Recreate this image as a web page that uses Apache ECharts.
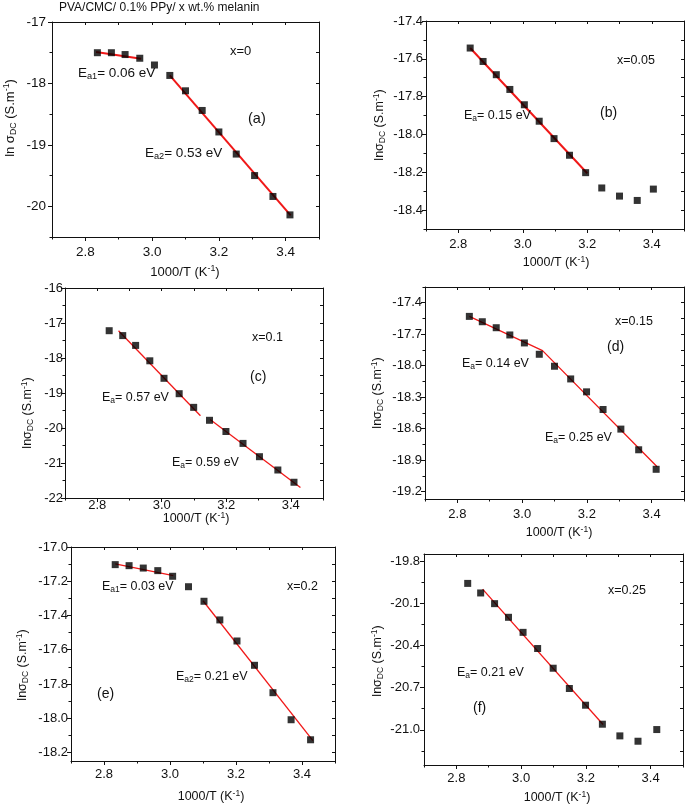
<!DOCTYPE html>
<html><head><meta charset="utf-8">
<script src="https://cdn.jsdelivr.net/npm/echarts@6/dist/echarts.min.js"></script>
<style>html,body{margin:0;padding:0;background:#fff}#c{width:685px;height:807px}</style>
</head><body><div id="c"></div>
<script>
// ---------- data ----------
const xTicks = [2.8, 3.0, 3.2, 3.4];
const xMinor = [2.7, 2.9, 3.1, 3.3, 3.5];

const xA = [2.836,2.878,2.919,2.963,3.007,3.053,3.100,3.150,3.200,3.252,3.307,3.362,3.413];
const yA = [-17.50,-17.50,-17.53,-17.59,-17.70,-17.87,-18.12,-18.44,-18.79,-19.15,-19.50,-19.84,-20.14];
const fitA1 = [[2.832,-17.49],[2.967,-17.60]];
const fitA2 = [[3.053,-17.868],[3.415,-20.147]];
const yTicksA = [-17,-18,-19,-20];
const yMinorA = [-17.5,-18.5,-19.5,-20.5];

const xB = [2.837,2.877,2.918,2.960,3.005,3.051,3.097,3.145,3.195,3.245,3.300,3.355,3.405];
const yB = [-17.543,-17.614,-17.684,-17.762,-17.843,-17.930,-18.022,-18.110,-18.202,-18.283,-18.326,-18.349,-18.289];
const fitB = [[2.837,-17.543],[3.200,-18.205]];
const yTicksB = [-17.4,-17.6,-17.8,-18.0,-18.2,-18.4];
const yMinorB = [-17.5,-17.7,-17.9,-18.1,-18.3,-18.5];

const xC = [2.837,2.879,2.919,2.963,3.007,3.054,3.099,3.148,3.199,3.252,3.303,3.360,3.410];
const yC = [-17.22,-17.36,-17.64,-18.08,-18.58,-19.02,-19.41,-19.78,-20.10,-20.44,-20.82,-21.20,-21.55];
const fitC1 = [[2.866,-17.22],[3.120,-19.65]];
const fitC2 = [[3.150,-19.76],[3.430,-21.70]];
const yTicksC = [-16,-17,-18,-19,-20,-21,-22];
const yMinorC = [-16.5,-17.5,-18.5,-19.5,-20.5,-21.5];

const xD = [2.837,2.877,2.920,2.962,3.007,3.053,3.100,3.150,3.199,3.250,3.305,3.360,3.414];
const yD = [-17.530,-17.581,-17.638,-17.707,-17.783,-17.891,-18.005,-18.126,-18.249,-18.417,-18.604,-18.801,-18.987];
const fitD = [[2.837,-17.53],[3.063,-17.856],[3.417,-18.962]];
const yTicksD = [-17.4,-17.7,-18.0,-18.3,-18.6,-18.9,-19.2];
const yMinorD = [-17.25,-17.55,-17.85,-18.15,-18.45,-18.75,-19.05];

const xE = [2.834,2.876,2.919,2.963,3.008,3.056,3.103,3.151,3.203,3.256,3.312,3.367,3.426];
const yE = [-17.103,-17.109,-17.123,-17.138,-17.171,-17.232,-17.317,-17.426,-17.549,-17.691,-17.851,-18.009,-18.126];
const fitE1 = [[2.834,-17.099],[3.010,-17.167]];
const fitE2 = [[3.100,-17.314],[3.433,-18.131]];
const yTicksE = [-17.0,-17.2,-17.4,-17.6,-17.8,-18.0,-18.2];
const yMinorE = [-17.1,-17.3,-17.5,-17.7,-17.9,-18.1];

const xF = [2.835,2.875,2.918,2.961,3.006,3.051,3.099,3.149,3.199,3.251,3.305,3.361,3.419];
const yF = [-19.959,-20.027,-20.103,-20.200,-20.307,-20.422,-20.562,-20.706,-20.825,-20.960,-21.043,-21.081,-20.998];
const fitF = [[2.881,-20.000],[3.253,-20.962]];
const yTicksF = [-19.8,-20.1,-20.4,-20.7,-21.0];
const yMinorF = [-19.95,-20.25,-20.55,-20.85,-21.15];

// ---------- layout ----------
const AX = '#111';
const FONT = 'Liberation Sans, Arial, sans-serif';
const panels = [
  {g:{left:52,top:22,width:267,height:215}, x:xA, y:yA, fits:[fitA1,fitA2], ymin:-20.5, ymax:-17, yt:yTicksA, ym:yMinorA, dec:0, fs:13.5, xm:8, ym_:6, lw:2},
  {g:{left:426,top:21,width:258,height:208}, x:xB, y:yB, fits:[fitB], ymin:-18.5, ymax:-17.4, yt:yTicksB, ym:yMinorB, dec:1, fs:13, xm:9, ym_:3, lw:2},
  {g:{left:65,top:288,width:258,height:210}, x:xC, y:yC, fits:[fitC1,fitC2], ymin:-22, ymax:-16, yt:yTicksC, ym:yMinorC, dec:0, fs:13, xm:1, ym_:2, lw:1.3},
  {g:{left:425,top:287,width:259,height:212}, x:xD, y:yD, fits:[fitD], ymin:-19.27, ymax:-17.25, yt:yTicksD, ym:yMinorD, dec:1, fs:13, xm:9, ym_:3, lw:1.3},
  {g:{left:71,top:547,width:264,height:214}, x:xE, y:yE, fits:[fitE1,fitE2], ymin:-18.25, ymax:-17.0, yt:yTicksE, ym:yMinorE, dec:1, fs:13, xm:7, ym_:3, lw:1.3},
  {g:{left:424,top:554,width:259,height:211}, x:xF, y:yF, fits:[fitF], ymin:-21.25, ymax:-19.75, yt:yTicksF, ym:yMinorF, dec:1, fs:13, xm:7, ym_:4, lw:1.3}
];

const grid = [], xAxis = [], yAxis = [], series = [];
panels.forEach((p, i) => {
  grid.push(Object.assign({containLabel:false}, p.g));
  const lineS = {show:true, onZero:false, lineStyle:{color:AX, width:1}};
  const noLine = {show:false};
  xAxis.push({gridIndex:i, type:'value', position:'bottom', min:2.7, max:3.5,
    axisLine:lineS, splitLine:{show:false},
    axisTick:{show:true, inside:false, length:4, customValues:xTicks, lineStyle:{color:AX}},
    axisLabel:{customValues:xTicks, formatter:v=>v.toFixed(1), fontSize:p.fs, color:'#111', margin:p.xm, fontFamily:FONT}});
  xAxis.push({gridIndex:i, type:'value', position:'bottom', min:2.7, max:3.5,
    axisLine:noLine, splitLine:{show:false},
    axisTick:{show:true, inside:false, length:2.5, customValues:xMinor, lineStyle:{color:AX}},
    axisLabel:{show:false}});
  xAxis.push({gridIndex:i, type:'value', position:'top', min:2.7, max:3.5,
    axisLine:lineS, splitLine:{show:false},
    axisTick:{show:true, inside:true, length:3, customValues:xTicks.concat(xMinor), lineStyle:{color:AX}},
    axisLabel:{show:false}});
  yAxis.push({gridIndex:i, type:'value', position:'left', min:p.ymin, max:p.ymax,
    axisLine:lineS, splitLine:{show:false},
    axisTick:{show:true, inside:false, length:4, customValues:p.yt, lineStyle:{color:AX}},
    axisLabel:{customValues:p.yt, formatter:v=>v.toFixed(p.dec), fontSize:p.fs, color:'#111', margin:p.ym_, fontFamily:FONT}});
  yAxis.push({gridIndex:i, type:'value', position:'left', min:p.ymin, max:p.ymax,
    axisLine:noLine, splitLine:{show:false},
    axisTick:{show:true, inside:false, length:2.5, customValues:p.ym, lineStyle:{color:AX}},
    axisLabel:{show:false}});
  yAxis.push({gridIndex:i, type:'value', position:'right', min:p.ymin, max:p.ymax,
    axisLine:lineS, splitLine:{show:false},
    axisTick:{show:true, inside:true, length:3, customValues:p.yt.concat(p.ym), lineStyle:{color:AX}},
    axisLabel:{show:false}});
  p.fits.forEach(f => series.push({type:'line', xAxisIndex:3*i, yAxisIndex:3*i, data:f,
    symbol:'none', lineStyle:{color:'#f01818', width:p.lw}, z:3, silent:true}));
  series.push({type:'scatter', xAxisIndex:3*i, yAxisIndex:3*i,
    data:p.x.map((v,k)=>[v,p.y[k]]), symbol:'rect', symbolSize:7,
    itemStyle:{color:'#000'}, z:4, silent:true});
});

// ---------- texts ----------
function rich(fs){
  return {
    n:{fontSize:fs, fontFamily:FONT, color:'#111'},
    s:{fontSize:fs*0.68, fontFamily:FONT, color:'#111', padding:[fs*0.5,0,0,0]},
    u:{fontSize:fs*0.68, fontFamily:FONT, color:'#111', padding:[0,0,fs*0.55,0]}
  };
}
function txt(x, y, s, fs, opts){
  opts = opts || {};
  return {type:'text', x:x, y:y, rotation:opts.rot||0, silent:true, z:10,
    style:{text:s, rich:rich(fs), align:opts.align||'left', verticalAlign:'middle',
      fontSize:fs, fontFamily:FONT, fill:'#111'}};
}
const XN = '{n|1000/T (K}{u|-1}{n|)}';
const YN = '{n|lnσ}{s|DC}{n| (S.m}{u|-1}{n|)}';
const YNa = '{n|ln σ}{s|DC}{n| (S.m}{u|-1}{n|)}';
const R = Math.PI/2;
const graphic = [
  txt(59, 8, '{n|PVA/CMC/ 0.1% PPy/ x wt.% melanin}', 12),
  txt(185, 272, XN, 13, {align:'center'}),
  txt(556, 263, XN, 12.5, {align:'center'}),
  txt(196, 519, XN, 12.5, {align:'center'}),
  txt(559, 533, XN, 12.5, {align:'center'}),
  txt(211, 797, XN, 12.5, {align:'center'}),
  txt(557, 798, XN, 12.5, {align:'center'}),
  txt(10, 118, YNa, 13, {align:'center', rot:R}),
  txt(380, 125, YN, 12.5, {align:'center', rot:R}),
  txt(28, 413, YN, 12.5, {align:'center', rot:R}),
  txt(378, 393, YN, 12.5, {align:'center', rot:R}),
  txt(23, 665, YN, 12.5, {align:'center', rot:R}),
  txt(378, 661, YN, 12.5, {align:'center', rot:R}),
  txt(230, 51, '{n|x=0}', 13),
  txt(78, 73, '{n|E}{s|a1}{n|= 0.06 eV}', 13.5),
  txt(248, 119, '{n|(a)}', 14.5),
  txt(145, 153, '{n|E}{s|a2}{n|= 0.53 eV}', 13.5),
  txt(617, 61, '{n|x=0.05}', 12.5),
  txt(600, 113, '{n|(b)}', 14),
  txt(464, 116, '{n|E}{s|a}{n|= 0.15 eV}', 12.5),
  txt(252, 338, '{n|x=0.1}', 12.5),
  txt(250, 377, '{n|(c)}', 14),
  txt(102, 398, '{n|E}{s|a}{n|= 0.57 eV}', 12.5),
  txt(172, 463, '{n|E}{s|a}{n|= 0.59 eV}', 12.5),
  txt(615, 322, '{n|x=0.15}', 12.5),
  txt(607, 347, '{n|(d)}', 14),
  txt(462, 364, '{n|E}{s|a}{n|= 0.14 eV}', 12.5),
  txt(545, 438, '{n|E}{s|a}{n|= 0.25 eV}', 12.5),
  txt(102, 587, '{n|E}{s|a1}{n|= 0.03 eV}', 12.5),
  txt(287, 587, '{n|x=0.2}', 12.5),
  txt(176, 677, '{n|E}{s|a2}{n|= 0.21 eV}', 12.5),
  txt(97, 694, '{n|(e)}', 14),
  txt(608, 591, '{n|x=0.25}', 12.5),
  txt(457, 673, '{n|E}{s|a}{n|= 0.21 eV}', 12.5),
  txt(473, 708, '{n|(f)}', 14)
];

const chart = echarts.init(document.getElementById('c'), null, {renderer:'canvas'});
chart.setOption({animation:false, backgroundColor:'#fff', grid, xAxis, yAxis, series, graphic});
</script></body></html>
